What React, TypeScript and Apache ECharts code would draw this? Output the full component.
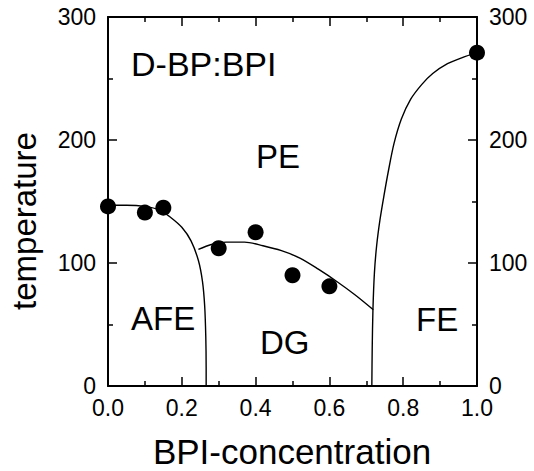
import React, { useEffect, useRef } from "react";
import * as echarts from "echarts";

// measured data points (BPI concentration, temperature)
const pointX = [0.0, 0.1, 0.15, 0.3, 0.4, 0.5, 0.6, 1.0];
const pointT = [146, 141, 145, 112, 125, 90, 81, 271];

// AFE phase boundary
const afeX = [0.0, 0.05, 0.1, 0.14, 0.17, 0.2, 0.225, 0.245, 0.256, 0.262, 0.265, 0.266, 0.266];
const afeT = [147, 147, 146, 143, 137, 129, 118, 102, 85, 65, 40, 15, 0];

// DG boundary
const dgX = [0.245, 0.28, 0.32, 0.37, 0.42, 0.47, 0.52, 0.57, 0.62, 0.67, 0.719];
const dgT = [111, 115, 117, 117, 114, 110, 104, 95, 85, 74, 62];

// FE boundary
const feX = [0.715, 0.716, 0.718, 0.722, 0.728, 0.737, 0.748, 0.76, 0.775, 0.795, 0.82, 0.85, 0.88, 0.92, 0.96, 1.0];
const feT = [0, 30, 62, 92, 114, 135, 155, 175, 197, 217, 233, 245, 254, 262, 267, 271];

const xTicks = [0, 0.2, 0.4, 0.6, 0.8, 1.0];
const yTicks = [0, 100, 200, 300];

const FONT = "'Liberation Sans', Arial, Helvetica, sans-serif";

const pairs = (xs: number[], ys: number[]) => xs.map((x, i) => [x, ys[i]]);

export default function App() {
  const ref = useRef<HTMLDivElement>(null);
  useEffect(() => {
    if (!ref.current) return;
    const chart = echarts.init(ref.current, undefined, { renderer: "svg" });
    const axisCommon = {
      type: "value" as const,
      axisLine: { show: true, onZero: false, lineStyle: { color: "#000", width: 2 } },
      axisTick: { show: true, inside: true, length: 9, lineStyle: { color: "#000", width: 1.5 } },
      minorTick: { show: true, splitNumber: 2, length: 5, lineStyle: { color: "#000", width: 1.5 } },
      splitLine: { show: false },
      minorSplitLine: { show: false },
    };
    const xAxisBase = { ...axisCommon, min: xTicks[0], max: xTicks[xTicks.length - 1], interval: 0.2 };
    const yAxisBase = { ...axisCommon, min: yTicks[0], max: yTicks[yTicks.length - 1], interval: 100 };
    const labelStyle = { color: "#000", fontSize: 23, fontFamily: FONT };
    const lineSeries = (xs: number[], ys: number[]) => ({
      type: "line" as const,
      data: pairs(xs, ys),
      smooth: 0.3,
      showSymbol: false,
      symbol: "none",
      lineStyle: { color: "#000", width: 1.4 },
      z: 2,
    });
    const txt = (text: string, x: number, y: number, extra: any = {}) => ({
      type: "text",
      x,
      y,
      style: {
        text,
        fill: "#000",
        fontSize: 33,
        fontFamily: FONT,
        textAlign: "left",
        textVerticalAlign: "middle",
        ...extra,
      },
      z: 10,
    });
    chart.setOption({
      animation: false,
      backgroundColor: "#fff",
      grid: { left: 108, right: 57, top: 17, bottom: 85, containLabel: false },
      xAxis: [
        {
          ...xAxisBase,
          position: "bottom",
          axisLabel: { ...labelStyle, margin: 10, formatter: (v: number) => v.toFixed(1) },
        },
        { ...xAxisBase, position: "top", axisLabel: { show: false } },
      ],
      yAxis: [
        { ...yAxisBase, position: "left", axisLabel: { ...labelStyle, margin: 12 } },
        { ...yAxisBase, position: "right", axisLabel: { ...labelStyle, margin: 12 } },
      ],
      series: [
        lineSeries(afeX, afeT),
        lineSeries(dgX, dgT),
        lineSeries(feX, feT),
        {
          type: "scatter",
          data: pairs(pointX, pointT),
          symbol: "circle",
          symbolSize: 16,
          itemStyle: { color: "#000", opacity: 1 },
          z: 3,
        },
      ],
      graphic: [
        txt("D-BP:BPI", 131, 64, { fontSize: 34 }),
        txt("PE", 256, 156),
        txt("AFE", 131, 318),
        txt("DG", 260, 342),
        txt("FE", 416, 319),
        txt("BPI-concentration", 292, 451, { textAlign: "center", fontSize: 35 }),
        {
          type: "text",
          x: 24,
          y: 221,
          rotation: Math.PI / 2,
          style: {
            text: "temperature",
            fill: "#000",
            fontSize: 33,
            fontFamily: FONT,
            textAlign: "center",
            textVerticalAlign: "middle",
          },
        },
      ],
    });
    return () => chart.dispose();
  }, []);
  return (
    <div
      ref={ref}
      style={{ position: "fixed", left: 0, top: 0, width: 534, height: 471 }}
    />
  );
}
